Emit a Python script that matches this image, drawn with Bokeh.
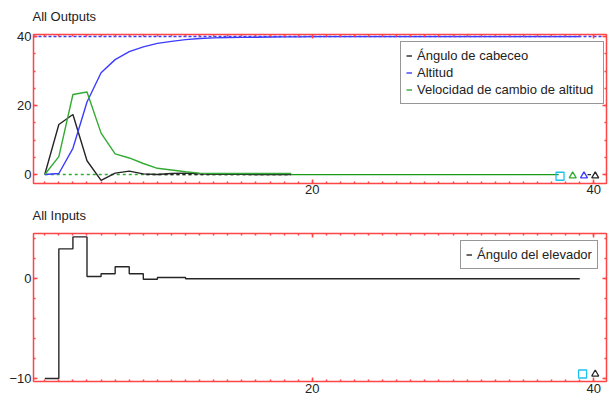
from bokeh.plotting import figure
from bokeh.layouts import column
from bokeh.models import (FixedTicker, LinearAxis, Range1d, Legend,
                          LegendItem, Title)
from bokeh.embed import file_html
from bokeh.resources import INLINE

# ---- simulation data -------------------------------------------------------
t_out = [1, 2, 3, 4, 5, 6, 7, 8, 9, 10, 11, 12, 13, 14, 15, 16, 17, 18, 18.5]
pitch = [0, 14.5, 17.4, 4.0, -1.7, 0.4, 1.0, 0.2, 0.0, 0.3, 0.4, 0.2, 0.1,
         0.05, 0.05, 0.02, 0.02, 0.0, 0.0]
climb_rate = [0, 5.2, 23.2, 23.9, 12.0, 6.0, 4.8, 3.2, 1.8, 1.3, 0.8, 0.4, 0.3,
              0.3, 0.3, 0.3, 0.3, 0.3, 0.3]

t_alt = list(range(1, 40))
altitude = [0, 0.3, 7.6, 21.0, 29.5, 33.3, 35.6, 37.0, 38.0, 38.6, 39.1, 39.4,
            39.6, 39.7, 39.75, 39.8, 39.85, 39.9, 39.9, 39.95, 39.95, 39.95,
            39.95, 39.95, 39.95, 39.95, 39.95, 39.95, 39.95, 39.95, 39.95,
            39.95, 39.95, 39.95, 39.95, 39.95, 39.95, 39.95, 39.95]

t_in = list(range(1, 40))
elevator = [-10, 3.0, 4.2, 0.23, 0.5, 1.2, 0.5, -0.04, 0.13, 0.13] + [0] * 29

# setpoints
alt_ref_t = [0.2, 40.7]
alt_ref = [40, 40]
rate_ref_t = [1, 18.5]
pitch_ref_t = [8, 18.5]
zero_ref = [0, 0]
tail_t = [18.5, 37.5]

# end-of-horizon markers
mk_out_sq_t, mk_out_sq_y = [37.6], [-0.5]
mk_out_tri_t = [38.5, 39.3, 40.1]
mk_out_tri_y = [-0.4, -0.4, -0.4]
mk_in_sq_t, mk_in_sq_y = [39.2], [-9.55]
mk_in_tri_t, mk_in_tri_y = [40.1], [-9.55]

x_ticks = [20, 40]
x_minor = list(range(1, 41))

# ---- styling ---------------------------------------------------------------
FONT = "Liberation Sans"
RED = "#ff4545"
BLACK = "#262626"
BLUE = "#3c3cff"
GREEN = "#33aa33"
CYAN = "#1ec0f0"


def style_axis(ax, ticks, minor, labels=True, standoff=2):
    ax.ticker = FixedTicker(ticks=ticks, minor_ticks=minor)
    ax.axis_line_color = None
    ax.major_tick_line_color = RED
    ax.minor_tick_line_color = RED
    ax.major_tick_line_width = 1.5
    ax.minor_tick_line_width = 1.5
    ax.major_tick_in = 4
    ax.major_tick_out = 0
    ax.minor_tick_in = 2
    ax.minor_tick_out = 0
    if labels:
        ax.major_label_text_font = FONT
        ax.major_label_text_font_size = "13px"
        ax.major_label_text_color = "#222222"
        ax.major_label_standoff = standoff
    else:
        # tick marks only on the opposite frame edges
        ax.major_label_text_font_size = "0px"
        ax.major_label_text_color = None
        ax.major_label_standoff = 0


def make_fig(height, bottom_border, x_standoff, y_range, title,
             y_ticks, y_minor):
    p = figure(width=611, height=height, output_backend="svg",
               toolbar_location=None, x_range=Range1d(0.2, 40.9),
               y_range=y_range, min_border_left=33, min_border_right=5,
               min_border_top=34, min_border_bottom=bottom_border,
               x_axis_type=None, y_axis_type=None)
    p.grid.visible = False
    p.outline_line_color = RED
    p.outline_line_width = 1.5
    p.background_fill_color = "white"
    p.border_fill_color = "white"

    bottom = LinearAxis()
    style_axis(bottom, x_ticks, x_minor, True, x_standoff)
    p.add_layout(bottom, "below")
    above = LinearAxis()
    style_axis(above, x_ticks, x_minor, False)
    p.add_layout(above, "above")
    left = LinearAxis()
    style_axis(left, y_ticks, y_minor, True)
    p.add_layout(left, "left")
    right = LinearAxis()
    style_axis(right, y_ticks, y_minor, False)
    p.add_layout(right, "right")

    p.add_layout(Title(text=title, align="left", vertical_align="top",
                       text_font=FONT, text_font_size="13px",
                       text_font_style="normal", text_color="#222222",
                       offset=-1, standoff=16.5), "above")
    return p


# ---- outputs ---------------------------------------------------------------
p1 = make_fig(199, 16, 1, Range1d(-2.6, 40.58), "All Outputs",
              [0, 20, 40], list(range(0, 41, 5)))

p1.line(alt_ref_t, alt_ref, line_color=BLUE, line_width=1.5, line_dash="3 2")
p1.line(rate_ref_t, zero_ref, line_color=GREEN, line_width=1.5, line_dash="3 3")
p1.line(pitch_ref_t, zero_ref, line_color=BLACK, line_width=1.5,
        line_dash="3 3", line_dash_offset=3)
p1.line(tail_t, zero_ref, line_color="#1a9a1a", line_width=1.3)

r_pitch = p1.line(t_out, pitch, line_color=BLACK, line_width=1.4)
r_alt = p1.line(t_alt, altitude, line_color=BLUE, line_width=1.4)
r_rate = p1.line(t_out, climb_rate, line_color=GREEN, line_width=1.4)

p1.line([39.55, 39.8], zero_ref, line_color=BLACK, line_width=1.3)
p1.scatter(mk_out_sq_t, mk_out_sq_y, marker="square", size=8,
           fill_color=None, line_color=CYAN, line_width=1.3)
p1.scatter(mk_out_tri_t, mk_out_tri_y, marker="triangle", size=7,
           fill_color=None, line_color=[GREEN, BLUE, BLACK], line_width=1.3)

leg1 = Legend(items=[LegendItem(label="Ángulo de cabeceo", renderers=[r_pitch]),
                     LegendItem(label="Altitud", renderers=[r_alt]),
                     LegendItem(label="Velocidad de cambio de altitud",
                                renderers=[r_rate])],
              location=(367, 79))
p1.add_layout(leg1, "center")

# ---- inputs ----------------------------------------------------------------
p2 = make_fig(199, 17, 2, Range1d(-10.3, 4.54), "All Inputs",
              [-10, 0], list(range(-10, 5, 2)))

r_elev = p2.step(t_in, elevator, mode="after", line_color=BLACK, line_width=1.4)
p2.scatter(mk_in_sq_t, mk_in_sq_y, marker="square", size=8,
           fill_color=None, line_color=CYAN, line_width=1.3)
p2.scatter(mk_in_tri_t, mk_in_tri_y, marker="triangle", size=7,
           fill_color=None, line_color=BLACK, line_width=1.3)

leg2 = Legend(items=[LegendItem(label="Ángulo del elevador", renderers=[r_elev])],
              location=(427, 112))
p2.add_layout(leg2, "center")

for lg, lw in ((leg1, 181), (leg2, 114)):
    lg.label_text_font = FONT
    lg.label_text_font_size = "13px"
    lg.label_text_color = "#222222"
    lg.glyph_width = 6
    lg.glyph_height = 17
    lg.label_height = 17
    lg.label_width = lw
    lg.label_standoff = 5
    lg.padding = 5
    lg.spacing = 0
    lg.margin = 0
    lg.border_line_color = "#303030"
    lg.border_line_width = 1.3
    lg.background_fill_alpha = 1.0

layout = column(p1, p2, spacing=0)
open("out.html", "w").write(file_html(layout, INLINE))
